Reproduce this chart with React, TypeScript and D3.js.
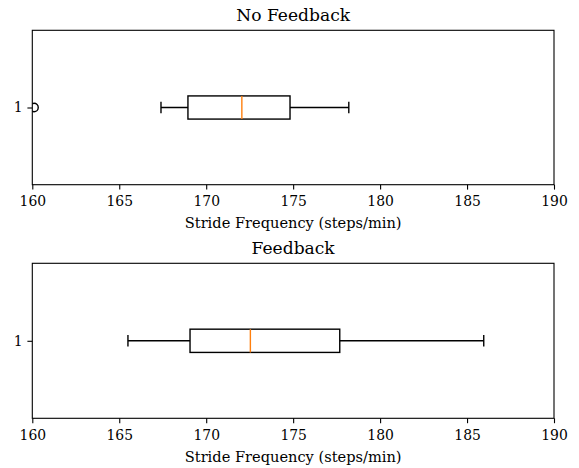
import React, { useEffect, useRef } from "react"
import * as d3 from "d3"

const WIDTH = 579
const HEIGHT = 468
const FONT = "'DejaVu Serif', serif"

// one panel per condition, stats
const titles = ["No Feedback", "Feedback"]
const whiskerLow = [167.4, 165.5]
const q1 = [168.95, 169.07]
const medians = [172.05, 172.54]
const q3 = [174.82, 177.68]
const whiskerHigh = [178.2, 185.96]
const fliers = [[160.1], []]

const xTicks = [160, 165, 170, 175, 180, 185, 190]
const xDomain = [160, 190]
const xLabel = "Stride Frequency (steps/min)"
const yTickLabels = ["1"]

const BOX_WIDTH = 0.15 // matplotlib default for a single box
const CAP_WIDTH = BOX_WIDTH / 2

const panels = [
	{ top: 30.3, bottom: 184.7 },
	{ top: 263.3, bottom: 418.3 },
]
const margin = { left: 32.3, right: WIDTH - 554 }

const App = () => {
	const svgRef = useRef(null)

	useEffect(() => {
		const svg = d3.select(svgRef.current)
		svg.selectAll("*").remove()

		const xScale = d3
			.scaleLinear()
			.domain(xDomain)
			.range([margin.left, WIDTH - margin.right])

		panels.forEach((p, i) => {
			const yScale = d3.scaleLinear().domain([1.5, 0.5]).range([p.top, p.bottom])
			const g = svg.append("g")

			g.append("defs")
				.append("clipPath")
				.attr("id", `clip-${i}`)
				.append("rect")
				.attr("x", margin.left)
				.attr("y", p.top)
				.attr("width", WIDTH - margin.left - margin.right)
				.attr("height", p.bottom - p.top)

			// title
			g.append("text")
				.attr("x", (xScale(xDomain[0]) + xScale(xDomain[1])) / 2)
				.attr("y", p.top - 9.8)
				.attr("text-anchor", "middle")
				.style("font-family", FONT)
				.style("font-size", "17.1px")
				.style("fill", "#000")
				.text(titles[i])

			// box plot
			const plot = g.append("g").attr("clip-path", `url(#clip-${i})`)
			const yc = yScale(1)
			const boxTop = yScale(1 + BOX_WIDTH / 2)
			const boxBot = yScale(1 - BOX_WIDTH / 2)
			const capTop = yScale(1 + CAP_WIDTH / 2)
			const capBot = yScale(1 - CAP_WIDTH / 2)

			const line = (x1, y1, x2, y2, color = "#000") =>
				plot.append("line")
					.attr("x1", x1).attr("y1", y1)
					.attr("x2", x2).attr("y2", y2)
					.attr("stroke", color)
					.attr("stroke-width", 1.4)

			line(xScale(whiskerLow[i]), yc, xScale(q1[i]), yc)
			line(xScale(q3[i]), yc, xScale(whiskerHigh[i]), yc)
			line(xScale(whiskerLow[i]), capTop, xScale(whiskerLow[i]), capBot)
			line(xScale(whiskerHigh[i]), capTop, xScale(whiskerHigh[i]), capBot)

			plot.append("rect")
				.attr("x", xScale(q1[i]))
				.attr("y", boxTop)
				.attr("width", xScale(q3[i]) - xScale(q1[i]))
				.attr("height", boxBot - boxTop)
				.attr("fill", "none")
				.attr("stroke", "#000")
				.attr("stroke-width", 1.4)

			line(xScale(medians[i]), boxTop, xScale(medians[i]), boxBot, "#ff7f0e")

			plot.selectAll("circle.flier")
				.data(fliers[i])
				.enter()
				.append("circle")
				.attr("class", "flier")
				.attr("cx", (d) => xScale(d))
				.attr("cy", yc)
				.attr("r", 4.2)
				.attr("fill", "none")
				.attr("stroke", "#000")
				.attr("stroke-width", 1.4)

			// x axis
			const xAxis = d3.axisBottom(xScale).tickValues(xTicks).tickSize(4.9).tickPadding(4.9).tickFormat(d3.format("d"))
			const xg = g.append("g")
				.attr("transform", `translate(0,${p.bottom})`)
				.call(xAxis)
			xg.select(".domain").remove()
			xg.selectAll(".tick line").attr("stroke", "#000").attr("stroke-width", 1.1)
			xg.selectAll(".tick text")
				.attr("y", 21.5)
				.attr("dy", null)
				.style("font-family", FONT)
				.style("font-size", "13.9px")
				.style("fill", "#000")

			g.append("text")
				.attr("x", (xScale(xDomain[0]) + xScale(xDomain[1])) / 2)
				.attr("y", p.bottom + 43.3)
				.attr("text-anchor", "middle")
				.style("font-family", FONT)
				.style("font-size", "14.6px")
				.style("fill", "#000")
				.text(xLabel)

			// y axis
			const yAxis = d3.axisLeft(yScale).tickValues([1]).tickSize(4.9).tickPadding(4.9).tickFormat(() => yTickLabels[0])
			const yg = g.append("g")
				.attr("transform", `translate(${margin.left},0)`)
				.call(yAxis)
			yg.select(".domain").remove()
			yg.selectAll(".tick line").attr("stroke", "#000").attr("stroke-width", 1.1)
			yg.selectAll(".tick text")
				.style("font-family", FONT)
				.style("font-size", "13.9px")
				.style("fill", "#000")

			// frame
			g.append("rect")
				.attr("x", margin.left)
				.attr("y", p.top)
				.attr("width", WIDTH - margin.left - margin.right)
				.attr("height", p.bottom - p.top)
				.attr("fill", "none")
				.attr("stroke", "#000")
				.attr("stroke-width", 1.1)
		})
	}, [])

	return (
		<svg
			ref={svgRef}
			width={WIDTH}
			height={HEIGHT}
			style={{ position: "absolute", left: 0, top: 0, background: "#fff" }}
		></svg>
	)
}

export default App
